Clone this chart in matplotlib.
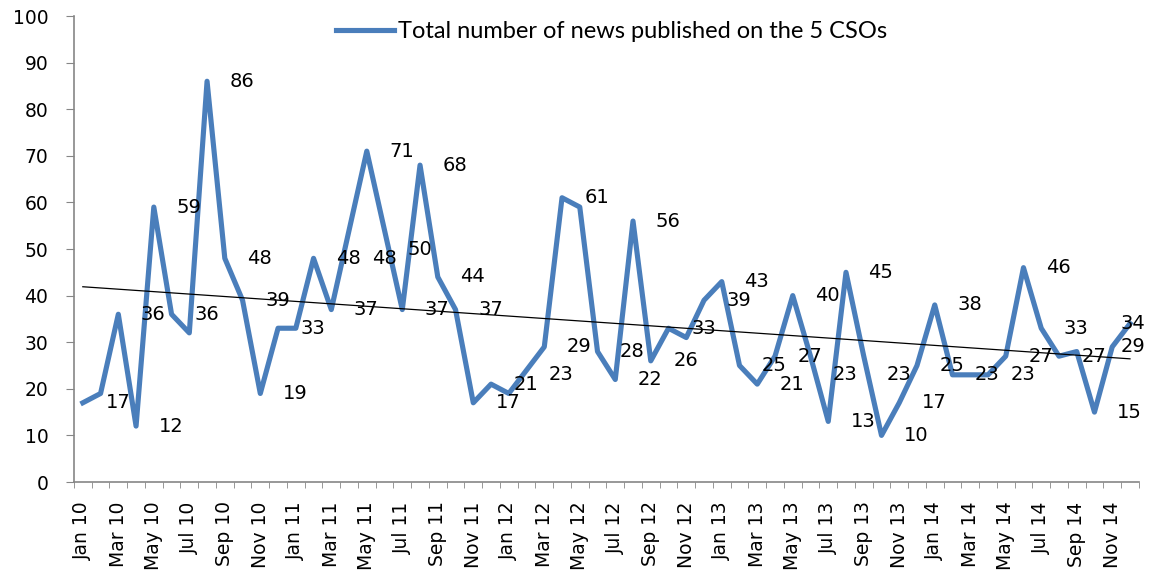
import numpy as np
import matplotlib.pyplot as plt

plt.rcParams['font.family'] = ['DejaVu Sans']

# monthly totals Jan 2010 .. Dec 2014
counts = [17, 19, 36, 12, 59, 36, 32, 86, 48, 39,
          19, 33, 33, 48, 37, 54, 71, 54, 37, 68,
          44, 37, 17, 21, 19, 24, 29, 61, 59, 28,
          22, 56, 26, 33, 31, 39, 43, 25, 21, 27,
          40, 27, 13, 45, 27, 10, 17, 25, 38, 23,
          23, 23, 27, 46, 33, 27, 28, 15, 29, 34]

# data labels as printed on the chart (None = no label shown)
point_labels = [17, None, 36, 12, 59, 36, None, 86, 48, 39,
                19, 33, None, 48, 37, 48, 71, 50, 37, 68,
                44, 37, 17, 21, None, 23, 29, 61, None, 28,
                22, 56, 26, 33, None, 39, 43, 25, 21, 27,
                40, 23, 13, 45, 23, 10, 17, 25, 38, 23,
                None, 23, 27, 46, 33, 27, None, 15, 29, 34]

months = ['Jan', 'Mar', 'May', 'Jul', 'Sep', 'Nov']
years = ['10', '11', '12', '13', '14']
tick_labels = [m + ' ' + y for y in years for m in months]
legend_label = 'Total number of news published on the 5 CSOs'

axis_grey = '#868686'

fig = plt.figure(figsize=(11.5, 5.82), dpi=100)
ax = fig.add_axes([0.0643, 0.1718, 0.926, 0.8007])

x = np.arange(len(counts))
ax.plot(x, counts, color='#4a7ebb', lw=3.7, label=legend_label, zorder=3)

# linear trend line
coef = np.polyfit(x, counts, 1)
ax.plot(x, np.polyval(coef, x), color='black', lw=0.9, zorder=4)

# data labels sit to the right of each point
for i, v in enumerate(point_labels):
    if v is None:
        continue
    lx = min(i + 1.97, 59.15)
    ax.text(lx, v, str(v), ha='center', va='center', fontsize=14, zorder=5)

ax.set_xlim(-0.5, 59.5)
ax.set_ylim(0, 100)
ax.set_yticks(range(0, 101, 10))
ax.set_xticks(np.arange(-0.5, 60, 1), minor=True)
ax.set_xticks(np.arange(0, 60, 2))
ax.set_xticklabels(tick_labels, rotation=90)

ax.tick_params(axis='x', which='major', length=0, pad=14, labelsize=13.5)
ax.tick_params(axis='x', which='minor', length=4.5, color=axis_grey)
ax.tick_params(axis='y', length=5.5, color=axis_grey, pad=13, labelsize=13.5)

for side in ['top', 'right']:
    ax.spines[side].set_visible(False)
for side in ['left', 'bottom']:
    ax.spines[side].set_color(axis_grey)
    ax.spines[side].set_linewidth(1.2)

ax.legend(loc='upper center', bbox_to_anchor=(0.505, 1.035), frameon=False,
          prop={'family': 'Lato', 'size': 17}, handlelength=2.45, handletextpad=0.15)

fig.savefig('out.png', dpi=100)
